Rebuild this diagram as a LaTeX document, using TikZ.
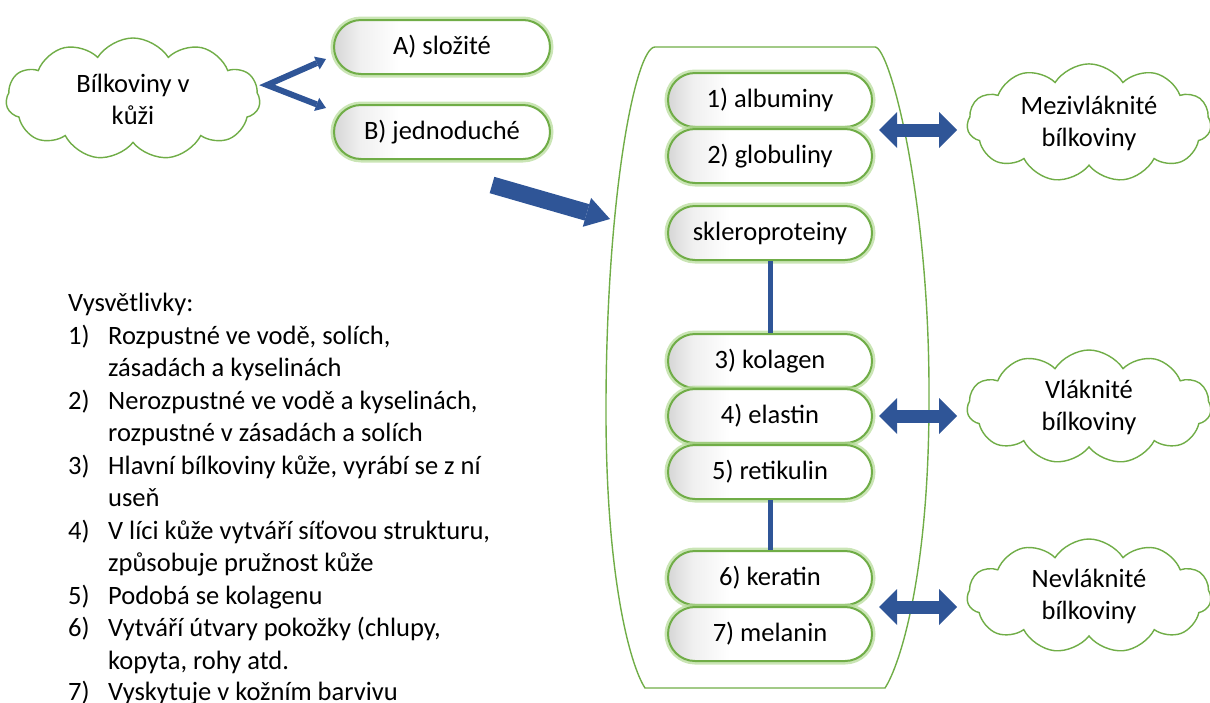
\documentclass[tikz,border=0pt]{standalone}
\usepackage{fontspec}
\setmainfont{Carlito}
\usetikzlibrary{shapes.misc,shapes.symbols,arrows.meta}
\definecolor{dblue}{RGB}{47,85,151}
\definecolor{pgreen}{RGB}{112,173,71}
\definecolor{glowgreen}{RGB}{180,218,150}
\pgfdeclarehorizontalshading{pillshade}{100bp}{color(0bp)=(black!16); color(25bp)=(black!16); color(31bp)=(black!6); color(40bp)=(white); color(100bp)=(white)}
\begin{document}
\begin{tikzpicture}[x=1pt,y=-1pt,
  txt/.style={font=\fontsize{26.5}{32}\selectfont, text=black},
  pill/.style={txt, rounded rectangle, minimum width=204pt, minimum height=54pt, inner sep=0pt,
    shading=pillshade, draw=pgreen, line width=2pt,
    preaction={draw=glowgreen, line width=7pt, opacity=0.7}},
  cloudbox/.style={txt, cloud, cloud puffs=11, cloud puff arc=115, aspect=2.1, draw=pgreen,
    line width=1.4pt, fill=white, align=center, inner sep=0pt},
  leg/.style={txt, anchor=base west, inner sep=0pt},
  conn/.style={draw=dblue, line width=5pt},
  dbl/.style={draw=dblue, line width=13pt,
    {Triangle[width=36pt,length=18pt,line width=0pt]}-{Triangle[width=36pt,length=18pt,line width=0pt]}},
  chev/.style={draw=dblue, line width=6pt, line join=miter,
    {Triangle[width=14pt,length=10pt,line width=0pt]}-{Triangle[width=14pt,length=10pt,line width=0pt]}},
  bigarrow/.style={draw=dblue, line width=17pt, -{Triangle[width=30pt,length=24pt,line width=0pt]}},
  frame/.style={draw=pgreen, line width=1.4pt}
]
\useasboundingbox (0,0) rectangle (1210,702);

% container
\draw[frame] (655,47) -- (875,47)
  .. controls (890,47) and (930,200) .. (929,400)
  .. controls (929,575) and (900,665) .. (885,688)
  -- (645,688)
  .. controls (630,665) and (605,575) .. (606,400)
  .. controls (607,190) and (636,47) .. (655,47);

% left cloud and A/B
\node[cloudbox, minimum width=254pt, minimum height=122pt] (bil) at (133,99) {Bílkoviny v\\kůži};
\node[pill, minimum width=216pt] (A) at (442,47) {A) složité};
\node[pill, minimum width=216pt] (B) at (442,132) {B) jednoduché};

\coordinate (apex) at (267,85);
\coordinate (ta) at (326,59);
\coordinate (tb) at (326,108);
\draw[chev] (ta) -- (apex) -- (tb);

\coordinate (bigtail) at (492,185);
\coordinate (bigtip) at (610,219);
\draw[bigarrow] (bigtail) -- (bigtip);

% pills in container
\node[pill] (alb) at (770,100) {1) albuminy};
\node[pill] (glo) at (770,156) {2) globuliny};
\node[pill] (skl) at (770,233) {skleroproteiny};
\node[pill] (kol) at (770,361) {3) kolagen};
\node[pill] (ela) at (770,416) {4) elastin};
\node[pill] (ret) at (770,472) {5) retikulin};
\node[pill] (ker) at (770,578) {6) keratin};
\node[pill] (mel) at (770,634) {7) melanin};

\draw[conn] (skl) -- (kol);
\draw[conn] (ret) -- (ker);

% right clouds
\node[cloudbox, minimum width=244pt, minimum height=114pt] (mez) at (1089,123) {Mezivláknité\\bílkoviny};
\node[cloudbox, minimum width=244pt, minimum height=114pt] (vla) at (1089,407) {Vláknité\\bílkoviny};
\node[cloudbox, minimum width=244pt, minimum height=114pt] (nev) at (1089,596) {Nevláknité\\bílkoviny};

\coordinate (d1a) at (879,130); \coordinate (d1b) at (957,130);
\coordinate (d2a) at (879,416); \coordinate (d2b) at (957,416);
\coordinate (d3a) at (879,607); \coordinate (d3b) at (957,607);
\draw[dbl] (d1a) -- (d1b);
\draw[dbl] (d2a) -- (d2b);
\draw[dbl] (d3a) -- (d3b);

% legend
\node[leg] (lh) at (68,311.5) {Vysvětlivky:};
\node[leg] (n1) at (68,344) {1)};
\node[leg] (t1a) at (108,344) {Rozpustné ve vodě, solích,};
\node[leg] (t1b) at (108,376.5) {zásadách a kyselinách};
\node[leg] (n2) at (68,409) {2)};
\node[leg] (t2a) at (108,409) {Nerozpustné ve vodě a kyselinách,};
\node[leg] (t2b) at (108,441.5) {rozpustné v zásadách a solích};
\node[leg] (n3) at (68,474) {3)};
\node[leg] (t3a) at (108,474) {Hlavní bílkoviny kůže, vyrábí se z ní};
\node[leg] (t3b) at (108,506.5) {useň};
\node[leg] (n4) at (68,539) {4)};
\node[leg] (t4a) at (108,539) {V líci kůže vytváří síťovou strukturu,};
\node[leg] (t4b) at (108,571.5) {způsobuje pružnost kůže};
\node[leg] (n5) at (68,604) {5)};
\node[leg] (t5a) at (108,604) {Podobá se kolagenu};
\node[leg] (n6) at (68,636.5) {6)};
\node[leg] (t6a) at (108,636.5) {Vytváří útvary pokožky (chlupy,};
\node[leg] (t6b) at (108,669) {kopyta, rohy atd.};
\node[leg] (n7) at (68,700.5) {7)};
\node[leg] (t7a) at (108,700.5) {Vyskytuje v kožním barvivu};
\end{tikzpicture}
\end{document}
